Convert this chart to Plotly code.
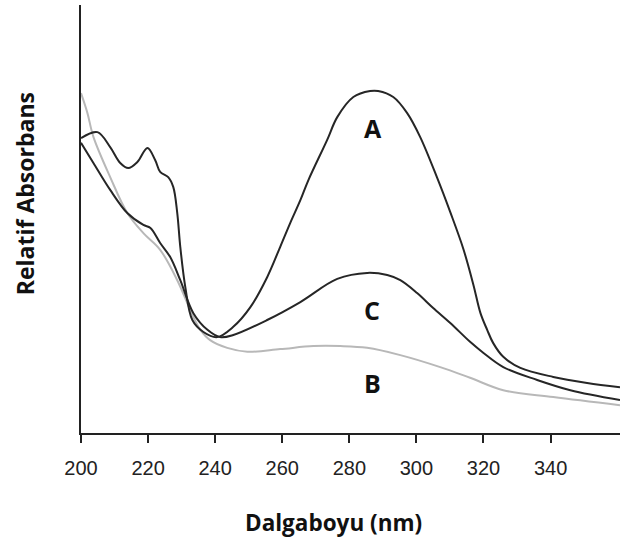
import plotly.graph_objects as go

# Wavelength (nm) and relative absorbance readings
wl_A = [200, 204.9, 208.7, 211.7, 214.1, 216.8, 219.8, 222.1, 223.6, 226.0, 227.5, 228.7, 229.6,
        231.1, 233.2, 236.5, 240.6, 245.4, 250.5, 255.5, 259.4, 262.4, 265.4, 267.8, 273.4, 276.4,
        281.2, 286.2, 288.6, 293.1, 297.2, 301.1, 306.2, 310.1, 314.0, 317.0, 319.1, 321.1,
        322.9, 325.9, 331.0, 340.8, 350.9, 360.7]
abs_A = [0.689, 0.703, 0.668, 0.631, 0.619, 0.633, 0.666, 0.638, 0.610, 0.598, 0.575, 0.514, 0.435,
         0.341, 0.264, 0.236, 0.224, 0.248, 0.294, 0.364, 0.435, 0.491, 0.544, 0.591, 0.685, 0.738,
         0.785, 0.799, 0.799, 0.785, 0.748, 0.692, 0.596, 0.516, 0.430, 0.346, 0.280, 0.241,
         0.210, 0.178, 0.152, 0.131, 0.117, 0.107]

wl_C = [200, 203.7, 208.7, 213.8, 218.6, 220.7, 223.6, 226.6, 229.6, 233.5, 237.7, 241.5, 245.4,
        255.5, 265.4, 276.4, 285.3, 291.3, 295.2, 300.2, 305.0, 310.1, 316.0, 320.0, 325.9, 336.0,
        345.9, 360.7]
abs_C = [0.678, 0.631, 0.568, 0.514, 0.486, 0.479, 0.444, 0.411, 0.357, 0.280, 0.241, 0.224, 0.229,
         0.264, 0.306, 0.360, 0.374, 0.369, 0.357, 0.327, 0.292, 0.257, 0.213, 0.187, 0.154, 0.124,
         0.100, 0.077]

wl_B = [200, 201.9, 203.7, 208.7, 213.8, 218.6, 223.6, 228.7, 233.5, 235.6, 238.5, 243.6, 249.6,
        259.4, 269.3, 277.3, 285.3, 295.2, 307.1, 316.0, 325.9, 340.8, 360.7]
abs_B = [0.794, 0.748, 0.692, 0.598, 0.514, 0.467, 0.428, 0.357, 0.271, 0.241, 0.217, 0.199, 0.190,
         0.196, 0.203, 0.203, 0.199, 0.182, 0.154, 0.129, 0.100, 0.084, 0.065]

labels = ["A", "C", "B"]
label_x = [287.2, 286.9, 286.9]
label_y = [0.713, 0.287, 0.117]

tick_vals = [200, 220, 240, 260, 280, 300, 320, 340]

bold = dict(family="Open Sans", color="#111", weight="bold")

fig = go.Figure()
line_kw = dict(width=2, shape="spline", smoothing=1.0)
fig.add_trace(go.Scatter(x=wl_B, y=abs_B, mode="lines", line=dict(color="#b8b8b8", **line_kw)))
fig.add_trace(go.Scatter(x=wl_C, y=abs_C, mode="lines", line=dict(color="#262626", **line_kw)))
fig.add_trace(go.Scatter(x=wl_A, y=abs_A, mode="lines", line=dict(color="#262626", **line_kw)))

for t, x, y in zip(labels, label_x, label_y):
    fig.add_annotation(x=x, y=y, text=t, showarrow=False, font=dict(size=25, **bold),
                       xanchor="center", yanchor="middle")

fig.add_annotation(x=275.2, y=0, yref="paper", text="Dalgaboyu (nm)", showarrow=False, yshift=-89,
                   font=dict(size=22.5, **bold), xanchor="center", yanchor="middle")
fig.add_annotation(x=0, xref="paper", xshift=-56, y=0.558, yref="paper", text="Relatif Absorbans",
                   showarrow=False, textangle=-90, font=dict(size=23, **bold),
                   xanchor="center", yanchor="middle")

fig.update_layout(
    width=620, height=545,
    margin=dict(l=81, r=0, t=5, b=112),
    paper_bgcolor="white", plot_bgcolor="white",
    showlegend=False,
    xaxis=dict(range=[200, 360.7], tickvals=tick_vals, showline=True, linecolor="#222", linewidth=2,
               ticks="outside", ticklen=8, tickwidth=2, tickcolor="#222", showgrid=False, zeroline=False,
               tickfont=dict(family="Liberation Sans", size=20, color="#222"), ticklabelstandoff=8),
    yaxis=dict(range=[0, 1], showline=True, linecolor="#222", linewidth=2, showticklabels=False,
               ticks="", showgrid=False, zeroline=False),
)
fig.write_html("out.html")
